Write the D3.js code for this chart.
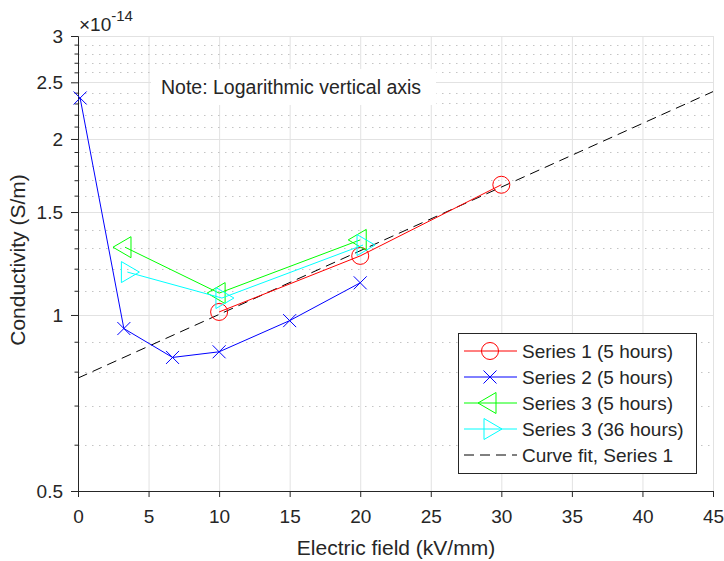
<!DOCTYPE html>
<html>
<head>
<meta charset="utf-8">
<script src="https://cdn.jsdelivr.net/npm/d3@7"></script>
<style>
  body { margin: 0; background: #fff; }
  svg { display: block; font-family: "Liberation Sans", Arial, sans-serif; }
  text { fill: #262626; }
</style>
</head>
<body>
<svg id="chart" width="724" height="561"></svg>
<script>
// data (y in units of 1e-14 S/m)
const s1X = [10, 20, 30];
const s1Y = [1.012, 1.262, 1.67];
const s2X = [0.15, 3.25, 6.7, 10, 15, 20];
const s2Y = [2.35, 0.948, 0.846, 0.865, 0.978, 1.135];
const s3X = [3.33, 10, 20];
const s3Y = [1.306, 1.09, 1.344];
const s4X = [3.5, 10.2, 20.2];
const s4Y = [1.184, 1.069, 1.317];
// exponential fit end points (straight on log axis)
const fitX = [0, 45];
const fitY = [0.78, 2.41];

const xTicks = [0, 5, 10, 15, 20, 25, 30, 35, 40, 45];
const yTicks = [0.5, 1, 1.5, 2, 2.5, 3];
const yMinor = [0.6, 0.7, 0.8, 0.9, 1.1, 1.2, 1.3, 1.4, 1.6, 1.7, 1.8, 1.9,
                2.1, 2.2, 2.3, 2.4, 2.6, 2.7, 2.8, 2.9];

const legendNames = ["Series 1 (5 hours)", "Series 2 (5 hours)", "Series 3 (5 hours)",
                     "Series 3 (36 hours)", "Curve fit, Series 1"];

const svg = d3.select("#chart");
const x = d3.scaleLinear().domain([0, 45]).range([78, 713]);
const y = d3.scaleLog().domain([0.5, 3]).range([491, 36]);

// grid
const grid = svg.append("g");
grid.selectAll("line.vg").data(xTicks).enter().append("line")
  .attr("x1", d => x(d) + 0.5).attr("x2", d => x(d) + 0.5)
  .attr("y1", y(3)).attr("y2", y(0.5))
  .attr("stroke", "#e2e2e2").attr("stroke-width", 1);
grid.selectAll("line.mg").data(yMinor).enter().append("line")
  .attr("x1", x(0)).attr("x2", x(45))
  .attr("y1", d => Math.round(y(d)) + 0.5).attr("y2", d => Math.round(y(d)) + 0.5)
  .attr("stroke", "#c4c4c4").attr("stroke-width", 1).attr("stroke-dasharray", "1.5,5.5");
grid.selectAll("line.hg").data(yTicks).enter().append("line")
  .attr("x1", x(0)).attr("x2", x(45))
  .attr("y1", d => Math.round(y(d)) + 0.5).attr("y2", d => Math.round(y(d)) + 0.5)
  .attr("stroke", "#e2e2e2").attr("stroke-width", 1);

// note with white background
svg.append("rect").attr("x", 151).attr("y", 69).attr("width", 285).attr("height", 36).attr("fill", "#fff");
svg.append("text").attr("x", 161).attr("y", 94).style("font-size", "19.5px")
  .text("Note: Logarithmic vertical axis");

// axes
const xAxis = svg.append("g").attr("transform", `translate(0,${y(0.5)})`)
  .call(d3.axisBottom(x).tickValues(xTicks).tickFormat(d3.format("d")).tickSize(6).tickPadding(13));
const yAxis = svg.append("g").attr("transform", `translate(${x(0)},0)`)
  .call(d3.axisLeft(y).tickValues(yTicks).tickFormat(d => d).tickSize(7).tickPadding(8));
svg.append("g").attr("transform", `translate(${x(0)},0)`)
  .call(d3.axisLeft(y).tickValues(yMinor).tickFormat("").tickSize(3.5))
  .call(g => g.select(".domain").remove());
svg.selectAll(".domain, .tick line").attr("stroke", "#262626");
[xAxis, yAxis].forEach(a => a.selectAll("text").style("font-size", "19px").attr("fill", "#262626"));
yAxis.selectAll("text").attr("dy", "0.34em");

const ex = svg.append("text").attr("x", 79).attr("y", 31).style("font-size", "19px");
ex.append("tspan").text("\u00d710");
ex.append("tspan").attr("dy", -10).style("font-size", "15px").text("-14");

svg.append("text").attr("x", 396).attr("y", 555).attr("text-anchor", "middle")
  .style("font-size", "21px").text("Electric field (kV/mm)");
svg.append("text").attr("transform", "translate(25,260) rotate(-90)").attr("text-anchor", "middle")
  .style("font-size", "21px").text("Conductivity (S/m)");

// markers
const markers = {
  circle: (g, c) => g.append("circle").attr("r", 8.5).attr("fill", "none").attr("stroke", c),
  cross: (g, c) => g.append("path").attr("d", "M-6.5,-6.5L6.5,6.5M-6.5,6.5L6.5,-6.5").attr("fill", "none").attr("stroke", c),
  left: (g, c) => g.append("path").attr("d", "M-12,0L6,-10.5L6,10.5Z").attr("fill", "none").attr("stroke", c),
  right: (g, c) => g.append("path").attr("d", "M12,0L-6,-10.5L-6,10.5Z").attr("fill", "none").attr("stroke", c)
};

const series = [
  {xs: s1X, ys: s1Y, color: "#ff0000", m: "circle"},
  {xs: s2X, ys: s2Y, color: "#0000ff", m: "cross"},
  {xs: s3X, ys: s3Y, color: "#00ff00", m: "left"},
  {xs: s4X, ys: s4Y, color: "#00ffff", m: "right"}
];

const line = d3.line().x(d => x(d[0])).y(d => y(d[1]));

svg.append("path").datum(d3.zip(fitX, fitY)).attr("d", line)
  .attr("fill", "none").attr("stroke", "#000").attr("stroke-width", 1).attr("stroke-dasharray", "10,6");

series.forEach(s => {
  const pts = d3.zip(s.xs, s.ys);
  svg.append("path").datum(pts).attr("d", line)
    .attr("fill", "none").attr("stroke", s.color).attr("stroke-width", 1);
  pts.forEach(p => {
    const g = svg.append("g").attr("transform", `translate(${x(p[0])},${y(p[1])})`);
    markers[s.m](g, s.color);
  });
});

// legend
const lg = svg.append("g");
lg.append("rect").attr("x", 458.5).attr("y", 333.5).attr("width", 238).attr("height", 140)
  .attr("fill", "#fff").attr("stroke", "#262626").attr("stroke-width", 1);
legendNames.forEach((name, i) => {
  const cy = 351 + i * 26;
  const row = lg.append("g");
  const color = i < 4 ? series[i].color : "#000";
  row.append("line").attr("x1", 464).attr("x2", 517).attr("y1", cy).attr("y2", cy)
    .attr("stroke", color).attr("stroke-width", 1).attr("stroke-dasharray", i < 4 ? null : "10,6");
  if (i < 4) {
    const g = row.append("g").attr("transform", `translate(490,${cy})`);
    markers[series[i].m](g, color);
  }
  row.append("text").attr("x", 522).attr("y", cy).attr("dy", "0.35em")
    .style("font-size", "19px").text(name);
});
</script>
</body>
</html>
